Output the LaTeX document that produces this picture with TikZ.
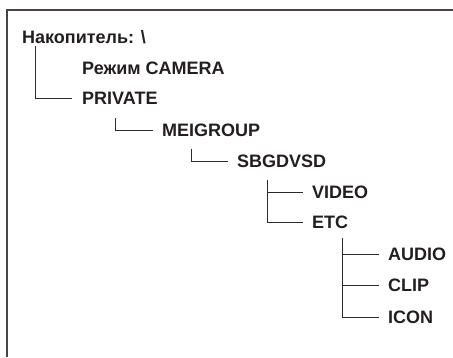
\documentclass[tikz,border=0pt]{standalone}
\usepackage{fontspec}
\setmainfont{Liberation Sans}
\usepackage{tikz}
\usetikzlibrary{calc}
\definecolor{txt}{HTML}{231F20}
\definecolor{lnk}{HTML}{2E2A2B}
\definecolor{rim}{HTML}{4A4344}

\begin{document}
\begin{tikzpicture}[
  x=1pt, y=-1pt,
  folder/.style={anchor=west, inner sep=0pt, text=txt, text height=12.8pt, text depth=0pt,
    font=\fontsize{18}{18}\selectfont\bfseries},
  link/.style={draw=lnk, line width=0.9pt},
  rimline/.style={draw=rim, line width=1.4pt},
]
\useasboundingbox (0,0) rectangle (453,357);
% Frame
\draw[rimline] (453,10) -| (7,357);

% Folders
\node[folder] (root) at (22,37) {Накопитель: \textbackslash};
\node[folder] (mode) at (82,68) {Режим CAMERA};
\node[folder] (private) at (82,98) {PRIVATE};
\node[folder] (meigroup) at (162,130) {MEIGROUP};
\node[folder] (sbgdvsd) at (237,161) {SBGDVSD};
\node[folder] (video) at (312,192) {VIDEO};
\node[folder] (etc) at (312,222) {ETC};
\node[folder] (audio) at (388,254) {AUDIO};
\node[folder] (clip) at (388,285) {CLIP};
\node[folder] (icon) at (388,317) {ICON};

% Branch points
\coordinate (b1) at ([xshift=13pt,yshift=-2pt]root.south west);
\coordinate (b2) at ([xshift=33pt,yshift=-13pt]private.south west);
\coordinate (b3) at ([xshift=29pt,yshift=-12pt]meigroup.south west);
\coordinate (b4) at ([xshift=30pt,yshift=-12pt]sbgdvsd.south west);
\coordinate (b5) at ([xshift=30pt,yshift=-9pt]etc.south west);

% Links
\draw[link] (b1) |- ([xshift=-10pt]private.west);
\draw[link] (b2) |- ([xshift=-9pt]meigroup.west);
\draw[link] (b3) |- ([xshift=-9pt]sbgdvsd.west);
\draw[link] (b4) |- ([xshift=-9pt]etc.west);
\draw[link] (b4 |- video.west) -- ([xshift=-9pt]video.west);
\draw[link] (b5) |- ([xshift=-9pt]icon.west);
\draw[link] (b5 |- audio.west) -- ([xshift=-9pt]audio.west);
\draw[link] (b5 |- clip.west) -- ([xshift=-9pt]clip.west);
\end{tikzpicture}
\end{document}
